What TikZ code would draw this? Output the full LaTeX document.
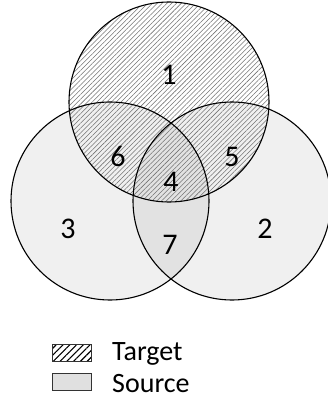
\documentclass[tikz,border=0pt]{standalone}
\usepackage{fontspec}
\setmainfont{Carlito}
\usepackage{tikz}
\usetikzlibrary{patterns.meta}

\begin{document}
\begin{tikzpicture}[x=1pt,y=-1pt,
    region/.style={font=\fontsize{30}{34}\selectfont,inner sep=0pt},
    legendtext/.style={font=\fontsize{28}{33}\selectfont,inner sep=0pt,anchor=base west},
    legendbox/.style={draw=black!80,line width=1pt,minimum width=39pt,minimum height=17pt,inner sep=0pt}]
  \useasboundingbox (0,0) rectangle (328,401);
  \coordinate (c1) at (169,102);
  \coordinate (c2) at (232,201);
  \coordinate (c3) at (110,201);
  \fill[black,fill opacity=0.06]
    (c3)
    circle
    [radius=99pt];
  \fill[black,fill opacity=0.06]
    (c2)
    circle
    [radius=99pt];
  \fill[pattern={Lines[angle=45,distance=3.4pt,line width=0.55pt]},pattern color=black!55]
    (c1)
    circle
    [radius=100pt];
  \draw[line width=1.1pt]
    (c1)
    circle
    [radius=100pt];
  \draw[line width=1.1pt]
    (c2)
    circle
    [radius=99pt];
  \draw[line width=1.1pt]
    (c3)
    circle
    [radius=99pt];
  \node[region] (r1) at (169,75) {1};
  \node[region] (r2) at (265,229) {2};
  \node[region] (r3) at (68,229) {3};
  \node[region] (r4) at (171,182) {4};
  \node[region] (r5) at (232,157) {5};
  \node[region] (r6) at (118,156) {6};
  \node[region] (r7) at (170,245) {7};
  \node[legendbox,pattern={Lines[angle=45,distance=4.8pt,line width=1.1pt]},pattern color=black]
    (tbox) at (71.5,352.5) {};
  \node[legendbox,fill=black!12]
    (sbox) at (71.5,381.5) {};
  \node[legendtext] (ttext) at (112,360) {Target};
  \node[legendtext] (stext) at (112,392) {Source};
\end{tikzpicture}
\end{document}
